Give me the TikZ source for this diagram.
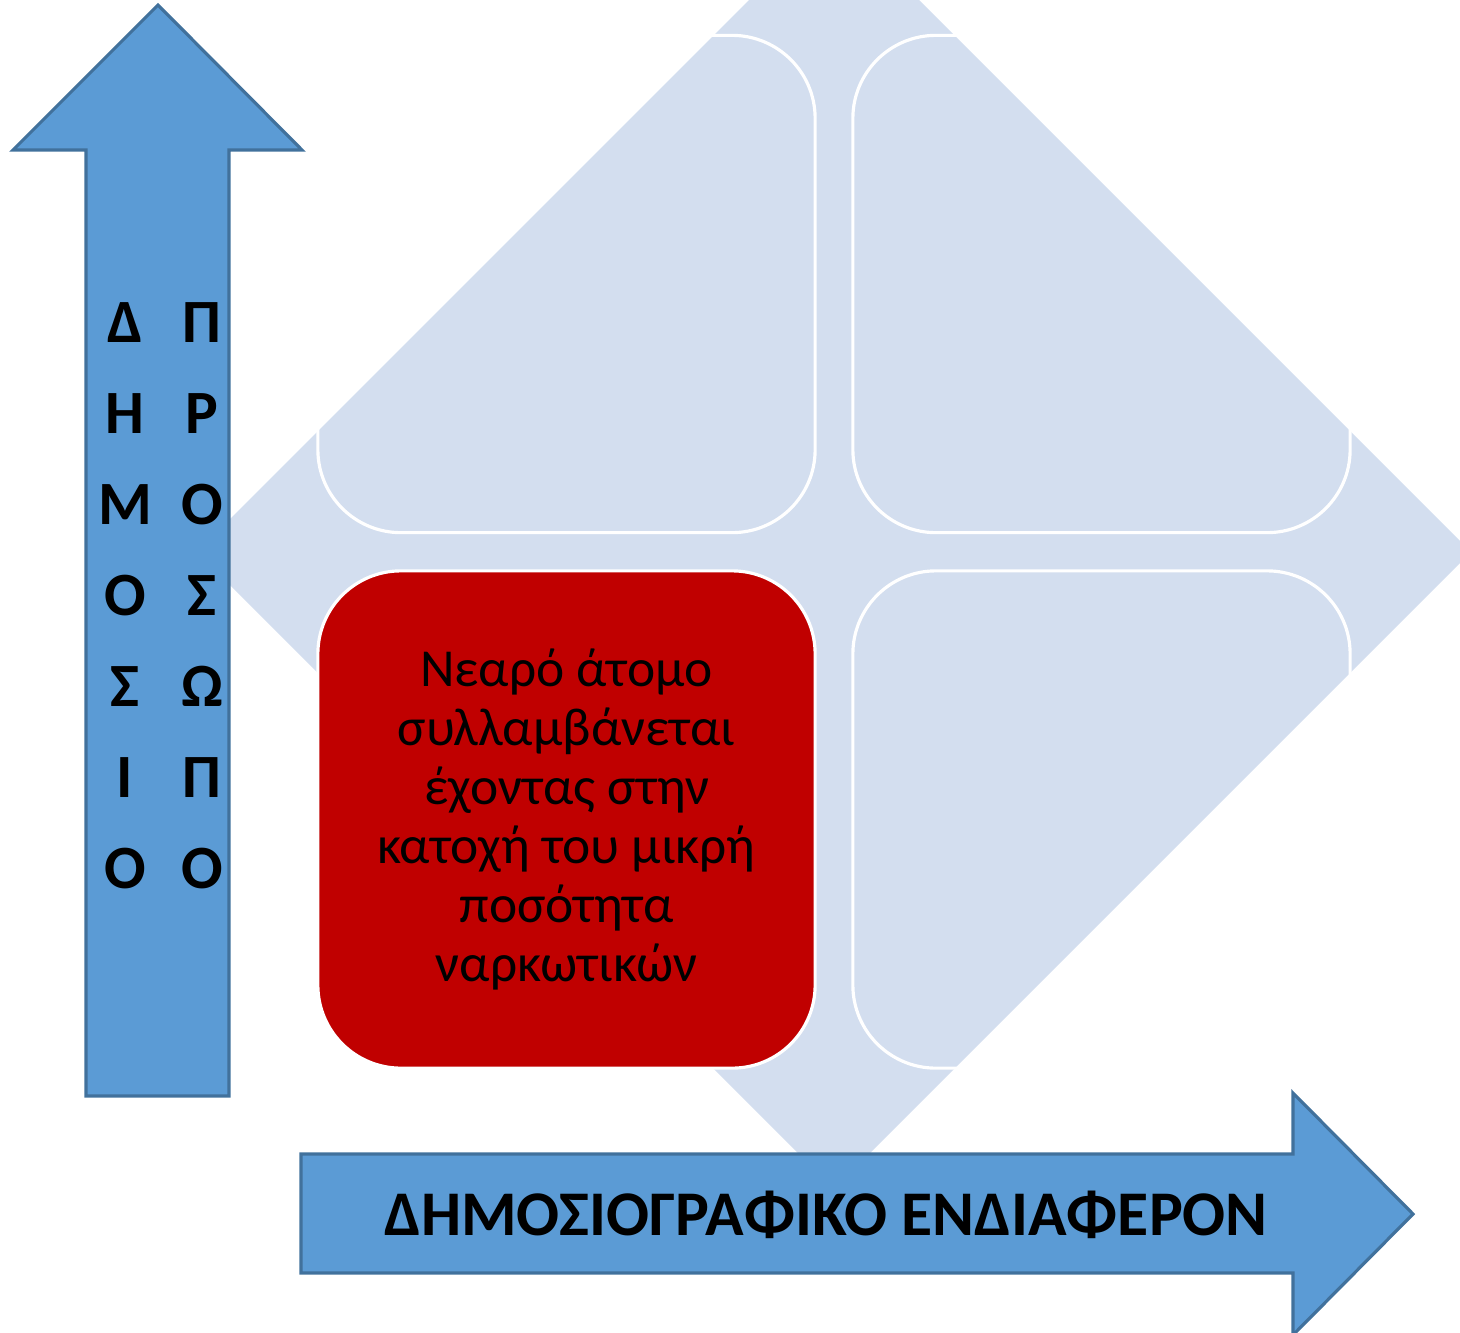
\documentclass[tikz,border=0pt]{standalone}
\usepackage{fontspec}
\setmainfont{Carlito}
\definecolor{diamondblue}{HTML}{D3DEEF}
\definecolor{arrowblue}{HTML}{5B9BD5}
\definecolor{arrowedge}{HTML}{41719C}
\definecolor{cellred}{HTML}{C00000}
\tikzset{
    cell/.style={draw=white, line width=0.9pt, rounded corners=0.83cm,
        minimum width=4.97cm, minimum height=4.97cm, inner sep=0pt, outer sep=0pt},
    bigarrow/.style={fill=arrowblue, draw=arrowedge, line width=0.9pt},
    axislabel/.style={font=\bfseries\fontsize{17.5}{21}\selectfont},
    celltext/.style={font=\fontsize{15.2}{16.8}\selectfont, align=center}
}
\begin{document}
\begin{tikzpicture}[x=0.01cm, y=-0.01cm]
    \useasboundingbox (0,0) rectangle (1460,1333);
    \clip (0,0) rectangle (1460,1333);
    % background diamond
    \fill[diamondblue] (834,-85) -- (1471,552) -- (834,1189) -- (197,552) -- cycle;
    % four cells
    \node[cell] (topleft) at (566.5,284) {};
    \node[cell] (topright) at (1101.5,284) {};
    \node[cell] (bottomright) at (1101.5,819.5) {};
    \node[cell, fill=cellred, celltext] (bottomleft) at (566.5,819.5)
        {Νεαρό άτομο\\συλλαμβάνεται\\έχοντας στην\\κατοχή του μικρή\\ποσότητα\\ναρκωτικών};
    % vertical axis
    \draw[bigarrow] (86,1096) -- (86,150) -- (13,150) -- (158,5)
        -- (302,150) -- (229,150) -- (229,1096) -- cycle;
    \foreach \l [count=\i from 0] in {Δ,Η,Μ,Ο,Σ,Ι,Ο}
        \node[axislabel, anchor=base] (public\i) at (125,342+91*\i) {\l};
    \foreach \l [count=\i from 0] in {Π,Ρ,Ο,Σ,Ω,Π,Ο}
        \node[axislabel, anchor=base] (person\i) at (202,342+91*\i) {\l};
    % horizontal axis
    \draw[bigarrow] (301,1154) -- (1293,1154) -- (1293,1093) -- (1413,1214)
        -- (1293,1335) -- (1293,1273) -- (301,1273) -- cycle;
    \node[axislabel, font=\bfseries\fontsize{18.1}{21}\selectfont, anchor=base] (press)
        at (826,1235) {ΔΗΜΟΣΙΟΓΡΑΦΙΚΟ ΕΝΔΙΑΦΕΡΟΝ};
\end{tikzpicture}
\end{document}
